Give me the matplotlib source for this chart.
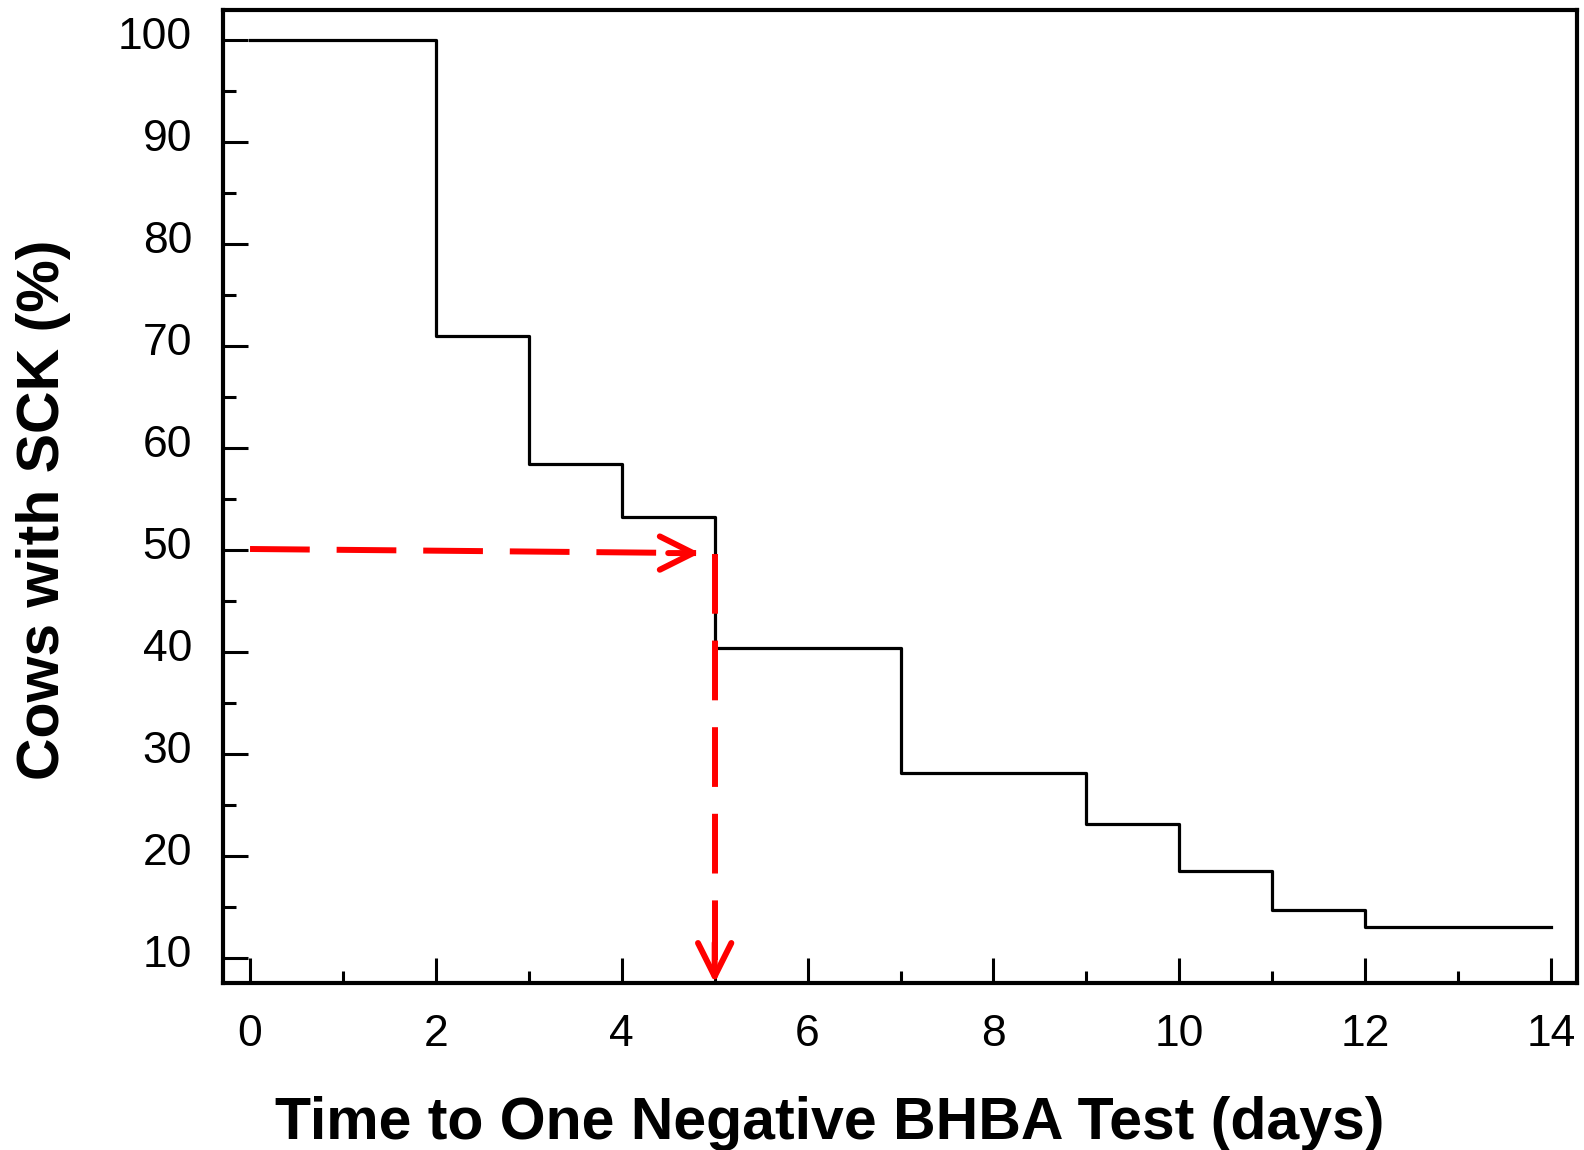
import numpy as np
import matplotlib.pyplot as plt
import matplotlib.transforms as mtransforms
from matplotlib.ticker import MultipleLocator

plt.rcParams['font.family'] = ['Liberation Sans', 'DejaVu Sans']

# Kaplan-Meier style steps (days, % of cows with SCK)
days = [0, 2, 3, 4, 5, 7, 9, 10, 11, 12, 14]
pct = [100, 71.0, 58.4, 53.2, 40.4, 28.1, 23.1, 18.5, 14.7, 13.0, 13.0]

# median survival guide (red dashed arrows)
median_pct = 50
median_day = 5

fig = plt.figure(figsize=(15.84, 11.5), dpi=100)
ax = fig.add_axes([0.1406, 0.1452, 0.855, 0.8461])

ax.step(days, pct, where='post', color='black', lw=2.3)

red = '#ff0000'
# horizontal dashed line to the step
ax.plot([0, median_day - 0.2], [median_pct + 0.1, median_pct - 0.3], color=red, lw=4.3,
        dashes=(10, 4.5), solid_capstyle='butt')
ax.annotate('', xy=(median_day - 0.16, median_pct - 0.3), xytext=(median_day - 0.5, median_pct - 0.3),
            arrowprops=dict(arrowstyle='->,head_length=1.2,head_width=0.6', color=red, lw=4.3,
                            mutation_scale=20, shrinkA=0, shrinkB=0))
# vertical dashed line down to the x axis
ax.plot([median_day, median_day], [median_pct - 0.4, 8.2], color=red, lw=4.3,
        dashes=(10, 4.5), solid_capstyle='butt')
ax.annotate('', xy=(median_day, 7.55), xytext=(median_day, 11.5),
            arrowprops=dict(arrowstyle='->,head_length=1.2,head_width=0.6', color=red, lw=4.3,
                            mutation_scale=20, shrinkA=0, shrinkB=0))

ax.set_xlim(-0.294, 14.28)
ax.set_ylim(7.55, 102.94)

ax.xaxis.set_major_locator(MultipleLocator(2))
ax.xaxis.set_minor_locator(MultipleLocator(1))
ax.yaxis.set_major_locator(MultipleLocator(10))
ax.yaxis.set_minor_locator(MultipleLocator(5))
ax.tick_params(which='both', direction='in', top=False, right=False, width=2.2, labelsize=32)
ax.tick_params(which='major', length=18, pad=22)
ax.tick_params(which='minor', length=9)

# y tick labels sit a little above their ticks in the original
shift = mtransforms.ScaledTranslation(0, 5 / 72, fig.dpi_scale_trans)
for lbl in ax.get_yticklabels():
    lbl.set_transform(lbl.get_transform() + shift)

for s in ax.spines.values():
    s.set_linewidth(3)

ax.set_xlabel('Time to One Negative BHBA Test (days)', fontsize=42.5, fontweight='bold')
ax.xaxis.set_label_coords(0.448, -0.116)
ax.set_ylabel('Cows with SCK (%)', fontsize=42.5, fontweight='bold')
ax.yaxis.set_label_coords(-0.112, 0.486)

fig.savefig('out.png', dpi=100)
